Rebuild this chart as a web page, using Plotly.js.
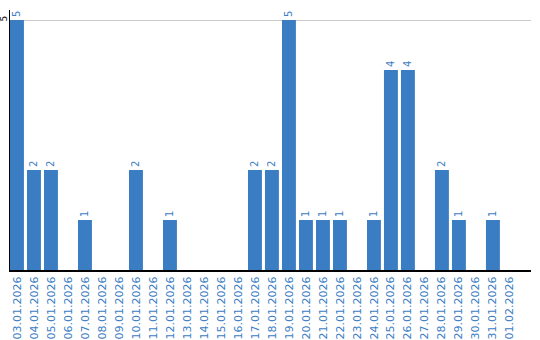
<!DOCTYPE html>
<html><head><meta charset="utf-8">
<script src="https://cdn.plot.ly/plotly-3.0.1.min.js"></script>
<style>html,body{margin:0;padding:0;background:#fff}#chart{width:540px;height:340px}</style>
</head><body><div id="chart"></div>
<script>
const dates = ["03.01.2026","04.01.2026","05.01.2026","06.01.2026","07.01.2026","08.01.2026","09.01.2026","10.01.2026","11.01.2026","12.01.2026","13.01.2026","14.01.2026","15.01.2026","16.01.2026","17.01.2026","18.01.2026","19.01.2026","20.01.2026","21.01.2026","22.01.2026","23.01.2026","24.01.2026","25.01.2026","26.01.2026","27.01.2026","28.01.2026","29.01.2026","30.01.2026","31.01.2026","01.02.2026"];
const counts = [5,2,2,0,1,0,0,2,0,1,0,0,0,0,2,2,5,1,1,1,0,1,4,4,0,2,1,0,1,0];
const yTicks = [5];

const blue = '#3b7dc3';
const trace = {
  type: 'bar',
  x: dates.map((d,i)=>i),
  y: counts,
  text: counts.map(v => v > 0 ? String(v) : ''),
  textposition: 'outside',
  textangle: -90,
  textfont: {family: 'DejaVu Sans', size: 10, color: blue},
  cliponaxis: false,
  marker: {color: blue},
  hoverinfo: 'none'
};
const layout = {
  width: 540, height: 340,
  margin: {l: 10, r: 9, t: 10, b: 70},
  paper_bgcolor: '#fff', plot_bgcolor: '#fff',
  showlegend: false,
  bargap: 0.18,
  xaxis: {
    range: [-0.41, 30.24],
    tickmode: 'array',
    tickvals: dates.map((d,i)=>i),
    ticktext: dates,
    tickangle: -90,
    tickfont: {family: 'DejaVu Sans', size: 11, color: blue},
    showline: true, linecolor: '#000', linewidth: 2,
    showgrid: false, zeroline: false, ticks: '', ticklen: 0
  },
  yaxis: {
    range: [0, 5.2],
    tickmode: 'array',
    tickvals: yTicks,
    ticktext: yTicks.map(String),
    tickangle: -90,
    ticklabelstandoff: -2,
    tickfont: {family: 'DejaVu Sans', size: 9, color: '#000'},
    showline: true, linecolor: '#000', linewidth: 1,
    showgrid: true, gridcolor: '#cccccc', gridwidth: 1,
    zeroline: false, ticks: '', ticklen: 0
  }
};
Plotly.newPlot('chart', [trace], layout, {staticPlot: true, displayModeBar: false});
</script>
</body></html>
